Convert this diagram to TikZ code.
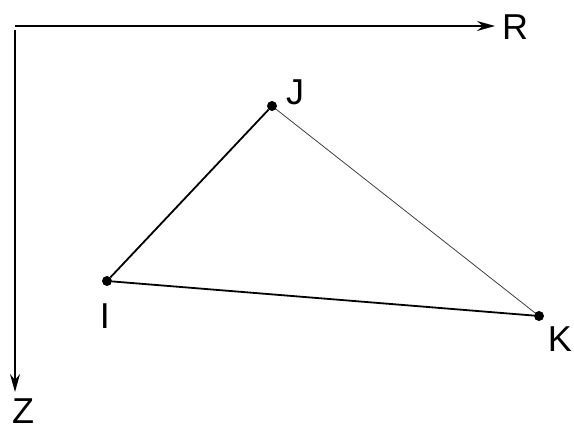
\documentclass[tikz,border=0pt]{standalone}
\usepackage{fontspec}
\setmainfont{Liberation Sans}
\usetikzlibrary{arrows.meta}
\begin{document}
\begin{tikzpicture}[x=1pt,y=-1pt,
  axis/.style={line width=1.6pt,-{Stealth[length=18pt,width=10pt]}},
  pt/.style={circle,fill=black,inner sep=0pt,minimum size=10pt},
  lbl/.style={font=\fontsize{36}{36}\selectfont,inner sep=0pt},
  edge/.style={line width=1.8pt},
  thinedge/.style={line width=0.8pt,black!75}]
\useasboundingbox (0,0) rectangle (574,433);
\coordinate (O) at (15,26);
\coordinate (Rend) at (495,26);
\coordinate (Zend) at (15,392);
\draw[axis] (O) -- (Rend);
\draw[axis] (15,30) -- (Zend);
\node[lbl] (R) at (515,27) {R};
\node[lbl] (Z) at (23,411) {Z};
\node[pt] (I) at (107,281) {};
\node[pt] (J) at (272,106) {};
\node[pt] (K) at (539,316) {};
\node[lbl] (Il) at (105,316) {I};
\node[lbl] (Jl) at (295,92) {J};
\node[lbl] (Kl) at (560,339) {K};
\draw[edge] (I) -- (J);
\draw[edge] (I) -- (K);
\draw[thinedge] (J) -- (K);
\end{tikzpicture}
\end{document}
